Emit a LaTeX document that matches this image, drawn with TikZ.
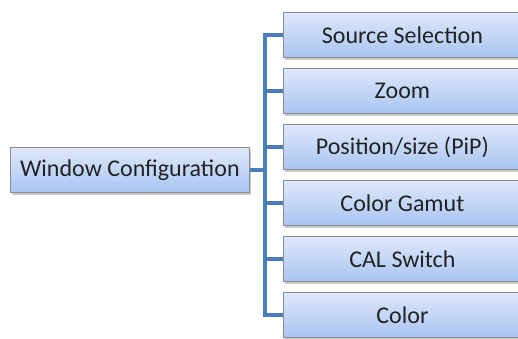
\documentclass[tikz,border=0pt]{standalone}
\usepackage{fontspec}
\setmainfont{Carlito}
\usetikzlibrary{shadows}
\definecolor{boxtop}{HTML}{DEE8FB}
\definecolor{boxbot}{HTML}{A9C5F2}
\definecolor{boxline}{HTML}{8C8C8C}
\definecolor{connc}{HTML}{4A7EBB}
\definecolor{txt}{HTML}{222222}
\begin{document}
\begin{tikzpicture}[x=1pt,y=-1pt,
  itembox/.style={draw=boxline, line width=0.8pt, top color=boxtop, bottom color=boxbot,
    minimum width=238pt, minimum height=45pt, inner sep=0pt, anchor=north west,
    text=txt, font=\fontsize{24}{28}\selectfont,
    drop shadow={shadow xshift=2pt, shadow yshift=-3pt, opacity=0.35, fill=black!60}},
  rootbox/.style={itembox, minimum width=239pt},
  conn/.style={draw=connc, line width=4pt}]
\useasboundingbox (0,0) rectangle (518,338);
\coordinate (sp) at (265,0);
\node[rootbox] (root) at (10,147) {Window Configuration};
\node[itembox] (b1) at (283,12) {Source Selection};
\node[itembox] (b2) at (283,68) {Zoom};
\node[itembox] (b3) at (283,124) {Position/size (PiP)};
\node[itembox] (b4) at (283,180) {Color Gamut};
\node[itembox] (b5) at (283,236) {CAL Switch};
\node[itembox] (b6) at (283,292) {Color};
\draw[conn] (b1.west) -- (b1.west -| sp) -- (b6.west -| sp) -- (b6.west);
\draw[conn] (root.east) -- (root.east -| sp);
\draw[conn] (b2.west -| sp) -- (b2.west);
\draw[conn] (b3.west -| sp) -- (b3.west);
\draw[conn] (b4.west -| sp) -- (b4.west);
\draw[conn] (b5.west -| sp) -- (b5.west);
\end{tikzpicture}
\end{document}
